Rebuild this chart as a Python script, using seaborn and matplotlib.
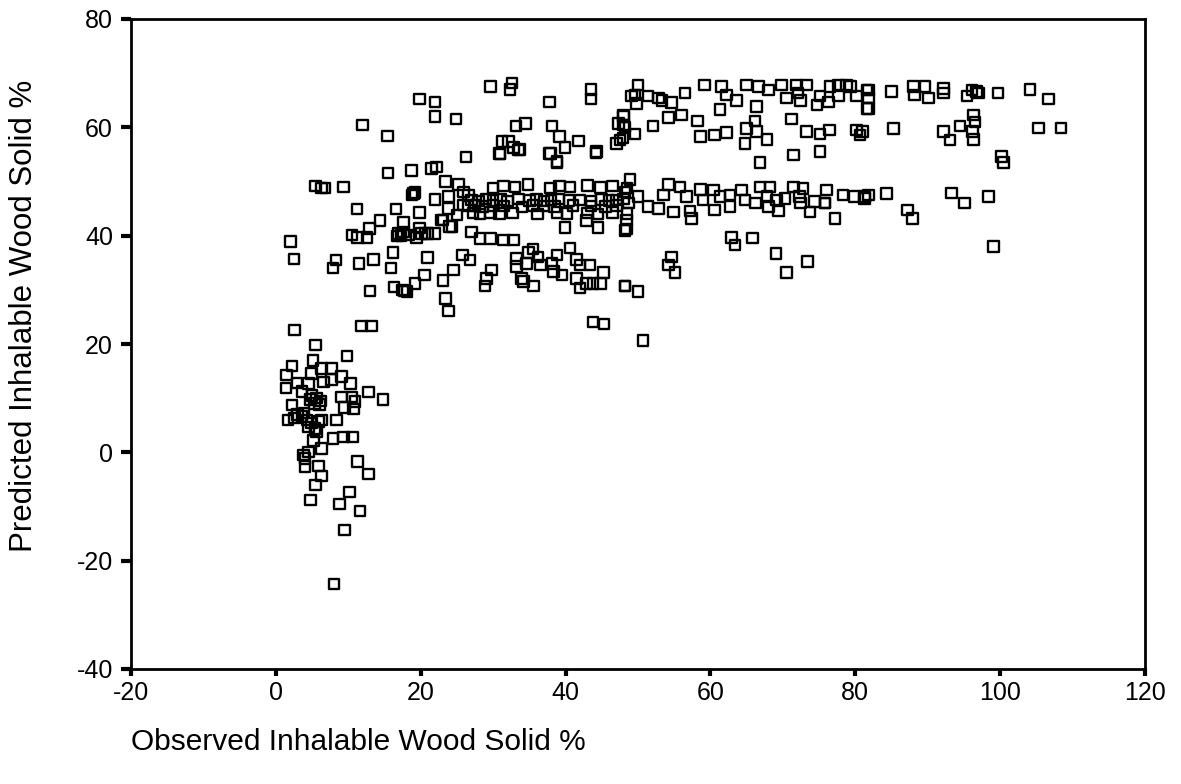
import matplotlib
matplotlib.use("Agg")
import matplotlib.pyplot as plt
import seaborn as sns
import pandas as pd

# ---- data (observed %, predicted %) ----
low_x = [2.55, 11.85, 13.2, 5.5, 9.8, 5.1, 2.2, 1.5, 6.3, 7.7, 4.9, 9.1, 10.3, 1.4, 2.9, 4.5, 6.6, 7.7, 3.6, 12.8, 14.8,
         5.0, 5.6, 6.2, 5.3, 6.0, 4.8, 2.2, 9.1, 10.5, 10.9, 9.5, 10.7,
         1.7, 2.6, 3.6, 4.3, 4.9, 5.9, 6.3, 5.4, 4.5, 3.0, 3.9,
         8.4, 5.6, 7.9, 9.3, 10.6, 5.2, 6.3, 4.5, 3.8, 4.0, 4.0, 5.9, 6.3, 11.3, 12.8, 5.5, 10.2, 4.8, 8.8, 11.6, 9.5, 8.0]
low_y = [22.6, 23.3, 23.3, 19.8, 17.8, 17.0, 15.9, 14.3, 15.5, 15.5, 14.6, 14.0, 12.7, 11.9, 12.8, 12.7, 13.0, 13.4, 11.2, 11.1, 9.8,
         10.5, 10.0, 9.5, 9.0, 8.8, 9.8, 8.7, 10.2, 10.2, 9.4, 8.3, 8.0,
         6.0, 6.3, 6.6, 6.0, 5.4, 5.7, 6.0, 4.4, 4.7, 7.0, 7.3,
         6.0, 3.8, 2.6, 2.8, 2.8, 2.2, 0.75, 0.1, -0.5, -1.1, -2.6, -2.5, -4.4, -1.7, -4.0, -6.0, -7.3, -8.8, -9.5, -10.8, -14.3, -24.3]

mid_x = [2.05, 2.5, 11.2, 16.6, 19.8, 14.4, 12.9, 10.5, 11.25, 12.6, 17.6, 16.9, 17.6, 18.3, 17.3, 19.8, 20.1, 21.0, 22.0, 19.4,
         16.2, 20.9, 8.3, 7.9, 11.5, 13.5, 15.9, 25.8, 26.8, 24.5, 23.1, 20.5, 19.2, 17.8, 16.3, 17.5, 13.0, 23.45, 23.8,
         24.0, 23.1, 25.0, 25.9, 5.5, 6.3, 6.8, 9.3, 12.0,
         26.25, 30.9, 33.5, 37.9, 38.8, 44.2, 15.5, 18.75, 21.5, 22.2, 23.4, 25.2, 19.0, 19.2, 18.8, 22.0, 23.8, 25.9, 26.6,
         23.8, 22.9, 24.3, 16.7, 20.6, 27.0, 28.2, 29.6, 31.4, 32.8,
         35.5, 34.9, 33.25, 36.2, 36.5, 33.25, 34.6, 40.6, 38.8, 38.1, 41.5, 42.0, 43.4, 38.3, 39.5, 45.2,
         41.5, 42.0, 42.9, 43.8, 44.8, 48.2, 29.8, 29.1, 28.9, 33.9, 34.2, 35.6, 18.1, 43.8, 45.3,
         39.9, 44.5, 48.2, 42.9]
mid_y = [38.9, 35.7, 44.9, 44.9, 44.3, 42.8, 41.3, 40.1, 39.7, 39.7, 42.4, 40.4, 40.7, 40.1, 40.0, 41.4, 40.4, 40.4, 40.4, 39.7,
         36.9, 36.0, 35.5, 34.0, 34.9, 35.6, 34.0, 36.4, 35.5, 33.7, 31.7, 32.7, 31.2, 29.8, 30.5, 30.0, 29.8, 28.4, 26.1,
         41.7, 42.9, 43.8, 45.7, 49.2, 48.8, 48.8, 49.0, 60.4,
         54.5, 55.2, 55.8, 55.2, 53.5, 55.3, 51.6, 52.0, 52.4, 52.7, 50.0, 49.4, 47.8, 48.0, 47.5, 46.7, 47.2, 48.1, 47.5,
         45.05, 42.9, 41.65, 39.9, 40.4, 40.7, 39.5, 39.5, 39.2, 39.2,
         37.5, 36.9, 35.8, 36.1, 34.6, 34.3, 34.9, 37.7, 36.4, 34.9, 35.6, 34.6, 34.6, 33.4, 32.7, 33.2,
         32.1, 30.3, 31.2, 31.2, 31.2, 30.7, 33.7, 32.1, 30.7, 32.1, 31.5, 30.7, 29.7, 24.1, 23.7,
         41.5, 41.5, 41.0, 42.8]

band_x = [30.0, 31.4, 33.0, 34.8, 37.9, 39.2, 40.6, 43.0, 44.8, 46.5, 48.5,
          27.0, 28.0, 29.0, 30.0, 31.0, 32.0, 33.5, 35.0, 36.0, 37.0, 38.0, 39.0, 40.5, 42.0, 43.5, 45.0, 46.0, 47.0, 48.0,
          26.5, 27.5, 28.5, 30.0, 31.5, 34.0, 35.5, 37.0, 38.5, 41.0, 43.5, 45.5, 47.0,
          27.2, 28.2, 29.6, 30.9, 32.7, 36.1, 38.8, 40.2, 43.0, 44.5, 46.5, 48.5,
          48.9, 54.2, 55.8, 58.6, 60.4, 64.3, 66.85, 68.2, 71.5, 72.8, 76.05,
          48.2, 50.0, 53.5, 56.7, 59.0, 61.3, 62.7, 64.8, 66.2, 67.8, 69.1, 70.3, 72.3, 74.4, 75.8, 78.3, 79.9, 81.3,
          48.7, 51.4, 52.8, 54.9, 57.2, 60.6, 62.7, 68.0, 69.4, 72.4, 73.75, 75.8,
          57.4, 48.4, 48.4, 77.2, 62.9, 63.4, 65.8, 69.05, 70.5, 73.4, 54.65, 54.2, 55.1, 48.2, 50.0, 50.7,
          100.2, 100.5, 81.3, 81.8, 84.3, 87.2, 87.9, 93.3, 95.1, 98.4, 99.1]
band_y = [48.8, 49.2, 49.0, 49.4, 48.8, 49.2, 49.0, 49.3, 48.9, 49.2, 48.8,
          46.6, 46.4, 46.8, 46.5, 46.7, 46.4, 46.8, 46.5, 46.7, 46.4, 46.6, 46.8, 46.5, 46.6, 46.4, 46.7, 46.5, 46.6, 46.8,
          45.5, 45.6, 45.4, 45.6, 45.5, 45.3, 45.6, 45.5, 45.4, 45.6, 45.5, 45.4, 45.6,
          44.2, 44.0, 44.3, 44.1, 44.2, 44.0, 44.3, 44.1, 44.2, 44.0, 44.3, 44.1,
          50.4, 49.4, 49.0, 48.55, 48.4, 48.4, 49.0, 49.0, 49.0, 48.7, 48.4,
          48.1, 47.2, 47.5, 47.2, 46.6, 47.2, 47.5, 46.6, 46.0, 47.2, 46.6, 46.9, 47.2, 46.3, 46.0, 47.5, 47.2, 46.9,
          46.0, 45.35, 45.05, 44.4, 44.55, 44.7, 45.35, 45.35, 44.55, 46.0, 44.4, 46.0,
          43.2, 42.9, 41.2, 43.2, 39.7, 38.3, 39.6, 36.75, 33.2, 35.2, 36.1, 34.6, 33.2, 30.7, 29.7, 20.6,
          54.6, 53.5, 47.2, 47.5, 47.8, 44.7, 43.2, 47.9, 46.0, 47.2, 38.0]

top_x = [29.6, 32.6, 32.3, 19.8, 22.0, 43.5, 43.5, 37.75, 22.0, 24.9, 15.4, 33.15, 34.5, 38.1, 39.2, 39.9, 41.8, 44.3,
         31.2, 32.1, 32.8, 33.6, 30.95, 37.75, 38.8, 47.3, 48.0, 48.2, 47.05, 47.9, 49.1,
         50.0, 49.6, 49.8, 51.4, 52.8, 53.3, 54.65, 56.5, 48.0, 48.0, 47.5, 49.6, 54.2, 56.0, 58.2, 52.1,
         59.2, 61.55, 62.2, 63.6, 61.3, 58.6, 60.6, 62.2, 65.0, 66.6, 68.0, 69.8, 66.4,
         66.15, 65.0, 66.4, 67.8, 64.8, 71.2, 71.9, 73.3, 72.1, 70.5, 72.4,
         74.7, 75.1, 76.5, 77.65, 78.8, 79.3, 76.3, 77.65, 80.2, 81.6, 81.6, 73.3, 75.1, 76.4, 80.2, 80.65,
         71.45, 75.1, 66.85,
         81.8, 81.8, 81.8, 85.0, 88.0, 89.6, 88.2, 90.1, 92.15, 92.15, 96.1, 96.75, 97.0, 95.4, 99.7, 104.1, 106.65,
         81.0, 85.25, 92.15, 93.1, 94.45, 96.3, 96.5, 96.2, 96.3, 105.3, 108.4]
top_y = [67.5, 68.2, 67.0, 65.2, 64.7, 67.0, 65.2, 64.7, 62.0, 61.5, 58.4, 60.25, 60.75, 60.25, 58.3, 56.3, 57.5, 55.5,
         57.35, 57.35, 56.3, 55.9, 55.1, 55.2, 53.7, 60.75, 62.0, 60.1, 57.05, 58.0, 65.8,
         67.8, 66.0, 64.4, 65.8, 65.4, 65.0, 64.55, 66.3, 62.3, 60.4, 57.7, 58.8, 61.85, 62.3, 61.2, 60.25,
         67.8, 67.5, 66.0, 65.0, 63.3, 58.3, 58.6, 59.0, 67.8, 67.5, 66.9, 67.8, 63.8,
         61.2, 59.8, 59.2, 57.8, 57.05, 61.5, 67.8, 67.8, 66.3, 65.4, 65.0,
         64.1, 65.8, 67.5, 67.8, 67.8, 67.5, 64.7, 65.8, 65.8, 66.9, 63.5, 59.2, 58.8, 59.5, 59.5, 58.6,
         54.9, 55.5, 53.5,
         66.9, 65.4, 63.5, 66.6, 67.5, 67.5, 66.0, 65.4, 67.2, 66.3, 66.9, 66.6, 66.3, 65.8, 66.3, 67.0, 65.2,
         59.2, 59.8, 59.2, 57.7, 60.25, 62.3, 61.0, 59.2, 57.8, 59.9, 59.9]

x_ticks = [-20, 0, 20, 40, 60, 80, 100, 120]
y_ticks = [-40, -20, 0, 20, 40, 60, 80]
x_title = "Observed Inhalable Wood Solid %"
y_title = "Predicted Inhalable Wood Solid %"

df = pd.DataFrame({
    "observed": low_x + mid_x + band_x + top_x,
    "predicted": low_y + mid_y + band_y + top_y,
})

sns.set_theme(style="ticks")
plt.rcParams["font.family"] = ["Liberation Sans", "DejaVu Sans"]
plt.rcParams["text.color"] = "black"
plt.rcParams["xtick.color"] = "black"
plt.rcParams["ytick.color"] = "black"

fig = plt.figure(figsize=(11.81, 7.84), dpi=100)
ax = fig.add_axes([131/1181, 1 - 669/784, (1145-131)/1181, (669-19)/784])

sns.scatterplot(data=df, x="observed", y="predicted", ax=ax, marker="s", s=58,
                facecolor="none", edgecolor="black", linewidth=1.7, legend=False)

ax.set_xlim(-20, 120)
ax.set_ylim(-40, 80)
ax.set_xticks(x_ticks)
ax.set_yticks(y_ticks)
ax.set_xticklabels([str(t) for t in x_ticks], fontsize=18)
ax.set_yticklabels([str(t) for t in y_ticks], fontsize=18)
ax.tick_params(axis="x", direction="out", length=5, width=3, colors="black", pad=4)
ax.tick_params(axis="y", direction="out", length=7, width=3, colors="black", pad=6)
for sp in ax.spines.values():
    sp.set_visible(True)
    sp.set_linewidth(2)
    sp.set_color("black")
ax.set_xlabel("")
ax.set_ylabel("")
ax.grid(False)

fig.text(131/1181, 1 - 742/784, x_title, ha="left", va="center", fontsize=21.5, color="black")
fig.text(24/1181, 1 - 316/784, y_title, ha="center", va="center", rotation=90, fontsize=22.5, color="black")

fig.savefig("out.png", dpi=100, facecolor="white")
